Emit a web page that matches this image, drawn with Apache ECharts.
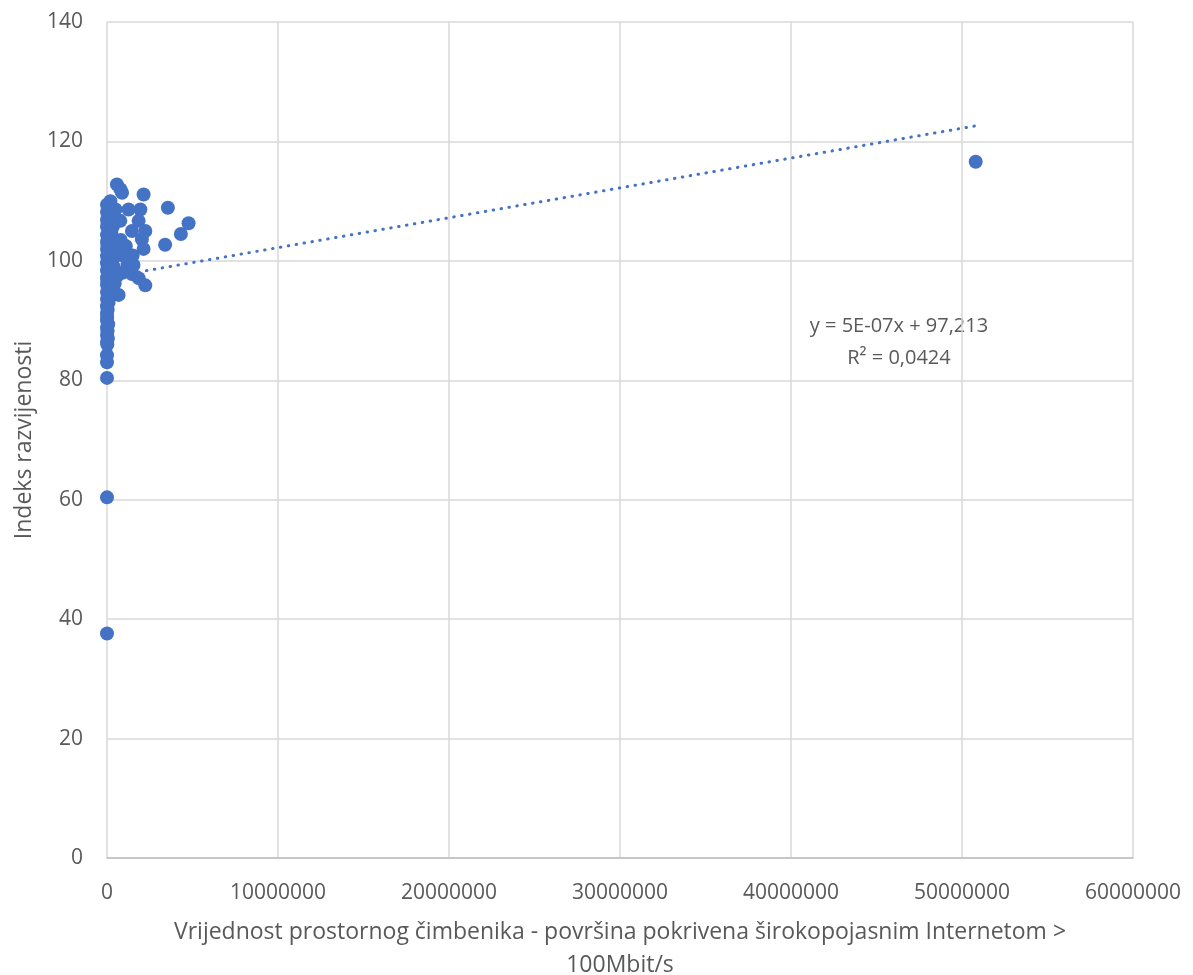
<!DOCTYPE html>
<html>
<head>
<meta charset="utf-8">
<script src="https://cdn.jsdelivr.net/npm/echarts@6/dist/echarts.min.js"></script>
<style>html,body{margin:0;padding:0;background:#fff;}#c{width:1193px;height:975px;}</style>
</head>
<body>
<div id="c"></div>
<script>
// x: area covered by broadband > 100Mbit/s, y: development index
const xValues = [
  0, 60000, 0, 120000, 0, 40000, 0, 150000, 0, 80000,
  0, 30000, 0, 100000, 0, 50000, 0, 140000, 0, 70000,
  0, 20000, 0, 110000, 0, 60000, 0, 90000, 0, 40000,
  0, 10000, 0, 70000, 0, 30000, 0, 50000, 0, 20000,
  0, 0, 0, 0,
  200000, 300000, 250000, 350000, 300000, 400000, 250000, 450000, 350000, 300000,
  580000, 780000, 880000, 500000, 780000, 300000, 700000, 1100000, 800000, 1000000,
  500000, 1500000, 1200000, 1550000, 900000, 600000, 400000, 1260000, 1460000, 1850000,
  490000, 680000, 1260000, 1950000, 1850000, 1460000, 2240000, 2040000, 2140000, 2140000,
  2240000, 3400000, 3560000, 4320000, 4770000, 50800000
];
const yValues = [
  109.4, 108.8, 108.2, 107.5, 106.9, 106.3, 105.7, 105.0, 104.4, 103.8,
  103.2, 102.6, 102.0, 101.4, 100.8, 100.2, 99.6, 99.0, 98.4, 97.8,
  97.2, 96.6, 96.0, 95.4, 94.8, 94.2, 93.6, 93.0, 92.4, 91.8,
  91.2, 90.6, 90.0, 89.4, 88.8, 88.2, 87.6, 87.0, 86.4, 86.0,
  84.2, 83.0, 80.4, 60.4,
  110.0, 107.2, 104.8, 103.0, 101.2, 99.0, 97.0, 96.2, 105.8, 102.2,
  112.8, 112.0, 111.4, 108.6, 106.7, 106.5, 101.8, 102.5, 103.5, 100.8,
  100.8, 100.9, 99.5, 99.3, 98.0, 97.5, 96.2, 98.7, 97.8, 97.1,
  94.4, 94.3, 108.6, 108.6, 106.7, 105.0, 95.9, 103.6, 102.0, 111.1,
  105.0, 102.7, 108.9, 104.5, 106.3, 116.6
];
// the lowest point
const extraX = [0];
const extraY = [37.6];

const trendSlope = 5e-7;
const trendIntercept = 97.213;
const equationLines = ['y = 5E-07x + 97,213', 'R² = 0,0424'];

const xTitle = 'Vrijednost prostornog čimbenika - površina pokrivena širokopojasnim Internetom >\n100Mbit/s';
const yTitle = 'Indeks razvijenosti';

const points = xValues.map((x, i) => [x, yValues[i]]).concat(extraX.map((x, i) => [x, extraY[i]]));
const allX = points.map(p => p[0]);
const xMin = Math.min(...allX), xMax = Math.max(...allX);
const trendData = [[xMin, trendIntercept + trendSlope * xMin], [xMax, trendIntercept + trendSlope * xMax]];

const blue = '#4472c4';
const gray = '#595959';
const font = '"Open Sans", "Liberation Sans", Arial, sans-serif';

const chart = echarts.init(document.getElementById('c'));
chart.setOption({
  animation: false,
  backgroundColor: '#fff',
  grid: { left: 107, right: 60, top: 22, bottom: 117, containLabel: false, outerBoundsMode: 'none' },
  xAxis: {
    type: 'value', min: 0, max: 60000000, interval: 10000000,
    name: xTitle, nameLocation: 'middle', nameGap: 58,
    nameTextStyle: { color: gray, fontSize: 23, fontFamily: font, lineHeight: 33 },
    axisLine: { show: true, lineStyle: { color: '#bfbfbf', width: 1.5 } },
    axisTick: { show: false },
    axisLabel: { color: gray, fontSize: 21, fontFamily: font, margin: 25, formatter: v => String(v) },
    splitLine: { show: true, lineStyle: { color: '#d9d9d9', width: 1.5 } }
  },
  yAxis: {
    type: 'value', min: 0, max: 140, interval: 20,
    name: yTitle, nameLocation: 'middle', nameGap: 70, nameRotate: 90,
    nameTextStyle: { color: gray, fontSize: 23, fontFamily: font },
    axisLine: { show: false },
    axisTick: { show: false },
    axisLabel: { color: gray, fontSize: 21, fontFamily: font, margin: 24 },
    splitLine: { show: true, lineStyle: { color: '#d9d9d9', width: 1.5 } }
  },
  series: [
    {
      type: 'line', data: trendData, symbol: 'none', z: 1,
      lineStyle: { color: blue, width: 3, type: [0.5, 7.5], cap: 'round' }
    },
    {
      type: 'scatter', data: points, symbol: 'circle', symbolSize: 14, z: 2,
      itemStyle: { color: blue, opacity: 1 }
    }
  ],
  graphic: [
    { type: 'text', x: 899, y: 326, style: { text: equationLines[0], fill: gray, font: '20px ' + font, align: 'center', verticalAlign: 'middle' } },
    { type: 'text', x: 899, y: 358, style: { text: equationLines[1], fill: gray, font: '20px ' + font, align: 'center', verticalAlign: 'middle' } }
  ]
});
</script>
</body>
</html>
